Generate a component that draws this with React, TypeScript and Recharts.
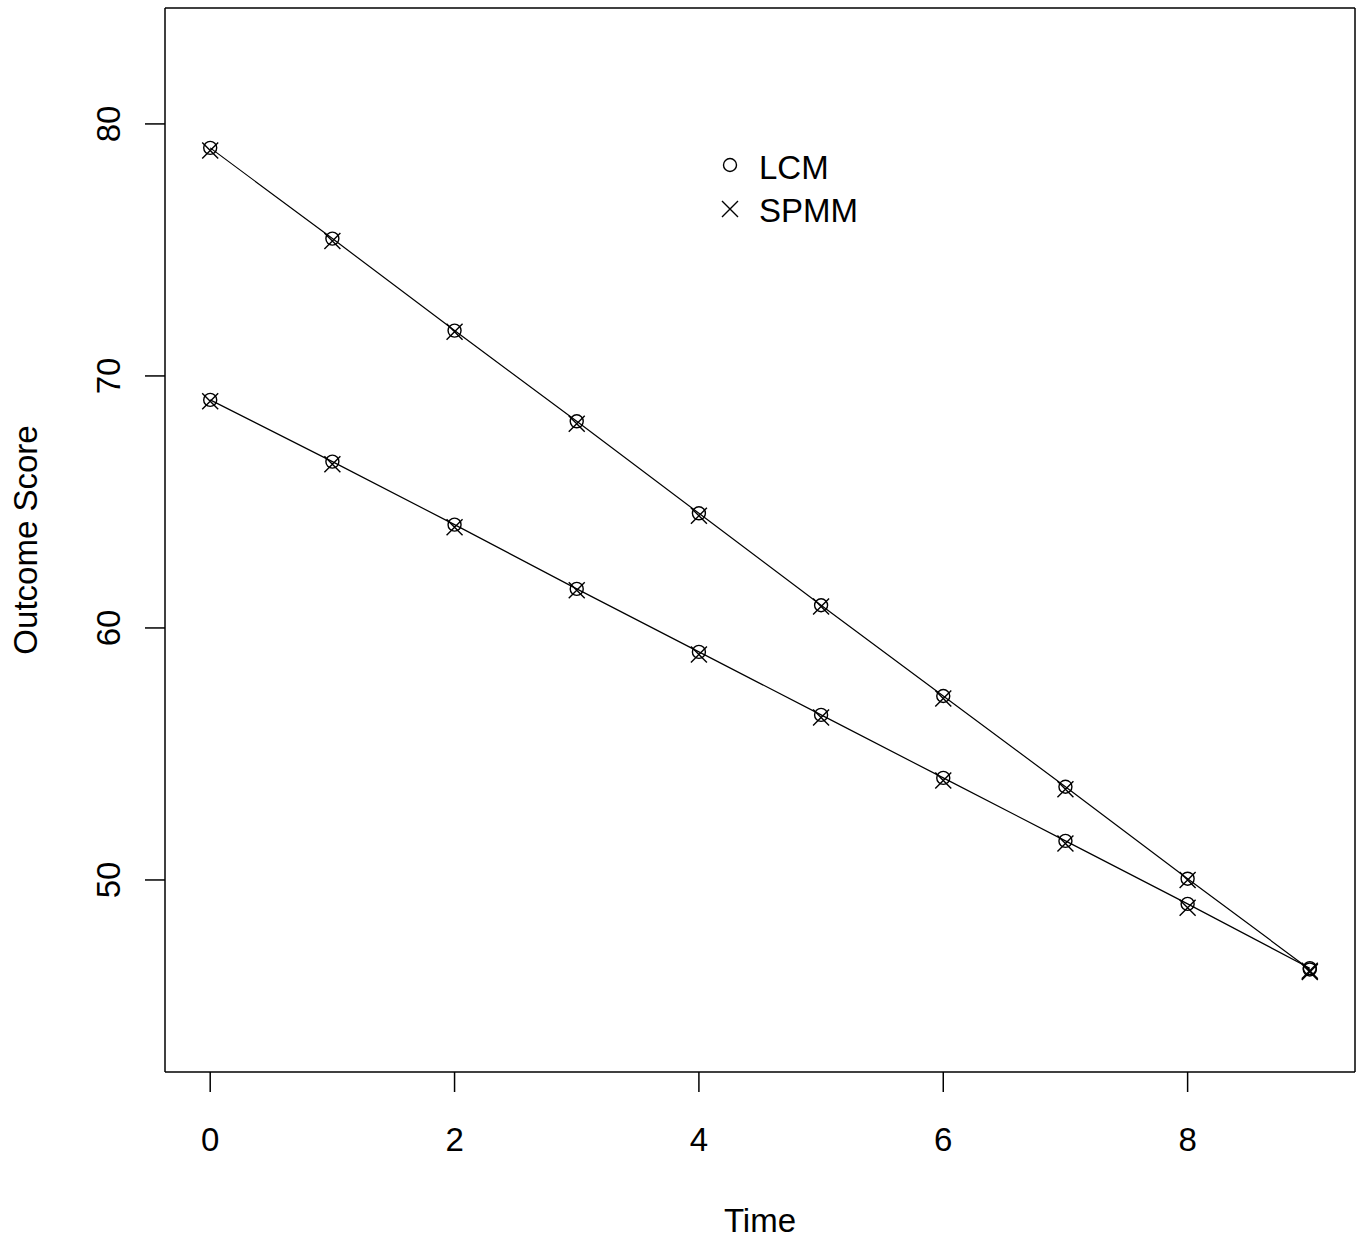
import React from "react";
import { LineChart, Line, XAxis, YAxis } from "recharts";

const times = [0, 1, 2, 3, 4, 5, 6, 7, 8, 9];
const lcmHigh = [79.05, 75.45, 71.8, 68.2, 64.55, 60.9, 57.3, 53.7, 50.05, 46.45];
const spmmHigh = [78.95, 75.35, 71.75, 68.1, 64.45, 60.85, 57.2, 53.6, 50.0, 46.4];
const lcmLow = [69.05, 66.6, 64.1, 61.55, 59.05, 56.55, 54.05, 51.55, 49.05, 46.5];
const spmmLow = [69.0, 66.5, 64.0, 61.5, 58.95, 56.45, 53.95, 51.45, 48.9, 46.35];
const xTicks = [0, 2, 4, 6, 8];
const yTicks = [50, 60, 70, 80];
const legendLabels = ["LCM", "SPMM"];

const data = times.map((t, i) => ({
  t,
  lcmHigh: lcmHigh[i],
  spmmHigh: spmmHigh[i],
  lcmLow: lcmLow[i],
  spmmLow: spmmLow[i],
}));

const FONT = "'Liberation Sans', Arial, sans-serif";
const FS = 33;

const CircleDot = (props: any) => {
  const { cx, cy, index } = props;
  if (cx == null || cy == null) return <g key={index} />;
  return <circle key={index} cx={cx} cy={cy} r={6.5} fill="none" stroke="#000" strokeWidth={1.4} />;
};

const CrossDot = (props: any) => {
  const { cx, cy, index } = props;
  if (cx == null || cy == null) return <g key={index} />;
  const h = 8;
  return (
    <path
      key={index}
      d={`M${cx - h},${cy - h}L${cx + h},${cy + h}M${cx - h},${cy + h}L${cx + h},${cy - h}`}
      stroke="#000"
      strokeWidth={1.4}
      fill="none"
    />
  );
};

const XTick = (props: any) => {
  const { x, y, payload } = props;
  return (
    <text x={x} y={y + 59} textAnchor="middle" fontFamily={FONT} fontSize={FS} fill="#000">
      {payload.value}
    </text>
  );
};

const YTick = (props: any) => {
  const { x, y, payload } = props;
  const bx = x - 25;
  return (
    <text
      x={bx}
      y={y}
      textAnchor="middle"
      transform={`rotate(-90, ${bx}, ${y})`}
      fontFamily={FONT}
      fontSize={FS}
      fill="#000"
    >
      {payload.value}
    </text>
  );
};

const LegendBox = () => (
  <div
    style={{
      position: "absolute",
      left: 715,
      top: 146,
      fontFamily: FONT,
      fontSize: FS,
      color: "#000",
      lineHeight: "43px",
    }}
  >
    {legendLabels.map((label, i) => (
      <div key={label} style={{ display: "flex", alignItems: "center", height: 43 }}>
        <svg width={30} height={30} style={{ marginRight: 14, position: "relative", top: i === 0 ? -3 : -2 }}>
          {i === 0 ? (
            <circle cx={15} cy={15} r={6.5} fill="none" stroke="#000" strokeWidth={1.4} />
          ) : (
            <path d="M7,7L23,23M7,23L23,7" stroke="#000" strokeWidth={1.4} />
          )}
        </svg>
        <span>{label}</span>
      </div>
    ))}
  </div>
);

export default function App() {
  return (
    <div style={{ position: "absolute", left: 0, top: 0, width: 1360, height: 1238, background: "#fff" }}>
      <LineChart
        width={1360}
        height={1238}
        data={data}
        margin={{ top: 7, right: 4, left: 0, bottom: 0 }}
      >
        <XAxis
          xAxisId="main"
          dataKey="t"
          type="number"
          domain={[-0.37, 9.37]}
          ticks={xTicks}
          allowDataOverflow
          height={166}
          tickSize={20}
          tickMargin={0}
          tick={<XTick />}
          axisLine={{ stroke: "#000", strokeWidth: 1.5 }}
          tickLine={{ stroke: "#000", strokeWidth: 1.5 }}
          label={{ value: "Time", position: "insideBottom", offset: 6, fontFamily: FONT, fontSize: FS, fill: "#000" }}
        />
        <XAxis
          xAxisId="top"
          dataKey="t"
          type="number"
          orientation="top"
          domain={[-0.37, 9.37]}
          allowDataOverflow
          height={1}
          tick={false}
          tickLine={false}
          axisLine={{ stroke: "#000", strokeWidth: 1.5 }}
        />
        <YAxis
          yAxisId="main"
          type="number"
          domain={[42.38, 84.6]}
          ticks={yTicks}
          allowDataOverflow
          width={165}
          tickSize={20}
          tickMargin={0}
          tick={<YTick />}
          axisLine={{ stroke: "#000", strokeWidth: 1.5 }}
          tickLine={{ stroke: "#000", strokeWidth: 1.5 }}
          label={{
            value: "Outcome Score",
            angle: -90,
            position: "insideLeft",
            offset: 25,
            style: { textAnchor: "middle" },
            fontFamily: FONT,
            fontSize: FS,
            fill: "#000",
          }}
        />
        <YAxis
          yAxisId="right"
          orientation="right"
          type="number"
          domain={[42.38, 84.6]}
          allowDataOverflow
          width={1}
          tick={false}
          tickLine={false}
          axisLine={{ stroke: "#000", strokeWidth: 1.5 }}
        />
        <Line xAxisId="main" yAxisId="main" dataKey="lcmHigh" name="LCM" stroke="#000" strokeWidth={1.2} dot={CircleDot} isAnimationActive={false} />
        <Line xAxisId="main" yAxisId="main" dataKey="lcmLow" name="LCM low" stroke="#000" strokeWidth={1.2} dot={CircleDot} isAnimationActive={false} />
        <Line xAxisId="main" yAxisId="main" dataKey="spmmHigh" name="SPMM" stroke="none" dot={CrossDot} isAnimationActive={false} />
        <Line xAxisId="main" yAxisId="main" dataKey="spmmLow" name="SPMM low" stroke="none" dot={CrossDot} isAnimationActive={false} />
        <Line xAxisId="top" yAxisId="right" dataKey="lcmHigh" stroke="none" dot={false} isAnimationActive={false} />
      </LineChart>
      <LegendBox />
    </div>
  );
}
